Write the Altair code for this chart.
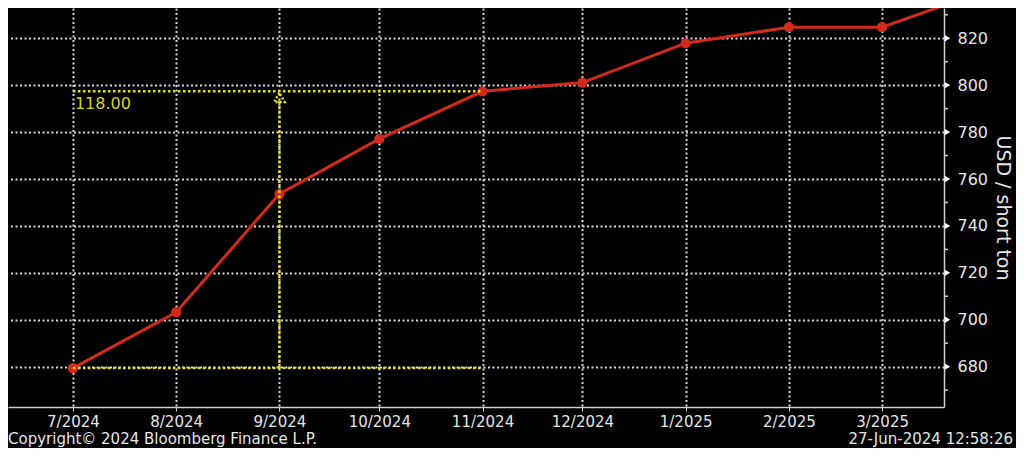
import altair as alt
import pandas as pd

# ---- data ----
months = ["2024-07-01T00:00:00", "2024-08-01T00:00:00", "2024-09-01T00:00:00",
          "2024-10-01T00:00:00", "2024-11-01T00:00:00", "2024-12-01T00:00:00",
          "2025-01-01T00:00:00", "2025-02-01T00:00:00", "2025-03-01T00:00:00",
          "2025-04-01T00:00:00"]
prices = [679.4, 703.2, 753.6, 777.1, 797.4, 801.1, 817.9, 824.7, 824.7, 840.3]

y_major = [680, 700, 720, 740, 760, 780, 800, 820]
y_minor = [670, 690, 710, 730, 750, 770, 790, 810, 830]

# annotation (difference between 7/2024 and 11/2024)
ann_start = "2024-07-01T00:00:00"
ann_end = "2024-11-01T00:00:00"
ann_mid = "2024-09-01T00:00:00"
ann_low = 679.4
ann_high = 797.4
ann_label = ["118.00"]

footer_left = ["Copyright\u00a9 2024 Bloomberg Finance L.P."]
footer_right = ["27-Jun-2024 12:58:26"]
y_title = "USD / short ton"

W, H = 936, 399
TOTAL_W, TOTAL_H = 1008, 440
RED = "#d22a1c"
YEL = "#e6e21e"
TXT = "#e6e6e6"
GRID = "#d8d8d8"
AX = "#cfcfcf"
FONT = "DejaVu Sans"

df = pd.DataFrame({"date": months, "price": prices})
hlines = pd.DataFrame({"x": [ann_start, ann_start], "x2": [ann_end, ann_end],
                       "y": [ann_low, ann_high]})
vline = pd.DataFrame({"x": [ann_mid], "y": [ann_low], "y2": [ann_high - 4.0]})
arrow = pd.DataFrame({"x": [ann_mid], "y": [ann_high - 2.6]})
lab = pd.DataFrame({"x": [ann_start], "y": [ann_high], "t": ann_label})
tri = pd.DataFrame({"v": y_major})
minor = pd.DataFrame({"v": y_minor})

x_scale = alt.Scale(domain=[alt.DateTime(year=2024, month=6, date=11, hours=12),
                            alt.DateTime(year=2025, month=3, date=19, hours=14)])
y_scale = alt.Scale(domain=[662.8, 832.9], nice=False, zero=False)

x_axis = alt.Axis(
    format="%-m/%Y", tickCount={"interval": "month", "step": 1},
    title=None, grid=True, gridColor=GRID, gridDash=[2, 2.5], gridWidth=2,
    domainColor=AX, domainWidth=1.5, tickColor=AX, tickSize=4,
    labelColor=TXT, labelFont=FONT, labelFontSize=15, labelPadding=3,
    labelOverlap=False, labelFlush=False,
)
y_axis = alt.Axis(
    orient="right", values=y_major, title=y_title,
    grid=True, gridColor=GRID, gridDash=[2, 2.5], gridWidth=2,
    domainColor=AX, domainWidth=1.5, ticks=False,
    labelColor=TXT, labelFont=FONT, labelFontSize=16, labelPadding=13,
    titleColor=TXT, titleFont=FONT, titleFontSize=19, titleFontWeight="normal",
    titlePadding=5, labelOverlap=False, labelFlush=False,
)

base = alt.Chart(df)

line = base.mark_line(color=RED, strokeWidth=3, clip=True).encode(
    x=alt.X("date:T", scale=x_scale, axis=x_axis),
    y=alt.Y("price:Q", scale=y_scale, axis=y_axis),
)
pts = base.mark_point(color=RED, filled=True, size=105, opacity=1, clip=True).encode(
    x="date:T", y="price:Q")

h_rules = alt.Chart(hlines).mark_rule(color=YEL, strokeWidth=2.5, strokeDash=[2.5, 2.5]).encode(
    x="x:T", x2="x2:T", y="y:Q")
v_rule = alt.Chart(vline).mark_rule(color=YEL, strokeWidth=2.5, strokeDash=[2.5, 2.5]).encode(
    x="x:T", y="y:Q", y2="y2:Q")
arrow_mark = alt.Chart(arrow).mark_point(shape="triangle-up", color=YEL, size=110,
                                         strokeWidth=2.5, strokeDash=[2, 2],
                                         filled=False, opacity=1).encode(
    x="x:T", y="y:Q")
ann_text = alt.Chart(lab).mark_text(color="#d8d41c", font=FONT, fontSize=16,
                                    align="left", baseline="top", dx=2, dy=5).encode(
    x="x:T", y="y:Q", text="t:N")

tri_mark = alt.Chart(tri).mark_point(shape="triangle-right", color="#ffffff", filled=True,
                                     size=40, opacity=1).encode(
    x=alt.value(W + 3.5), y="v:Q")
minor_ticks = alt.Chart(minor).mark_rule(color=AX, strokeWidth=1.5).encode(
    x=alt.value(W), x2=alt.value(W + 4), y="v:Q")

foot_l = alt.Chart(pd.DataFrame({"t": footer_left})).mark_text(
    color=TXT, font=FONT, fontSize=15, align="left", baseline="middle").encode(
    x=alt.value(0), y=alt.value(H + 32), text="t:N")
foot_r = alt.Chart(pd.DataFrame({"t": footer_right})).mark_text(
    color=TXT, font=FONT, fontSize=15, align="right", baseline="middle").encode(
    x=alt.value(1005), y=alt.value(H + 32), text="t:N")

chart = alt.layer(line, pts, h_rules, v_rule, arrow_mark, ann_text, tri_mark, minor_ticks,
                  foot_l, foot_r).properties(
    width=W, height=H,
    autosize=alt.AutoSizeParams(type="none"),
    padding={"left": 0, "top": 0, "right": TOTAL_W - W, "bottom": TOTAL_H - H},
    background="black",
).configure_view(stroke=None)

chart.save("out.html", embed_options={"renderer": "svg", "actions": False})
